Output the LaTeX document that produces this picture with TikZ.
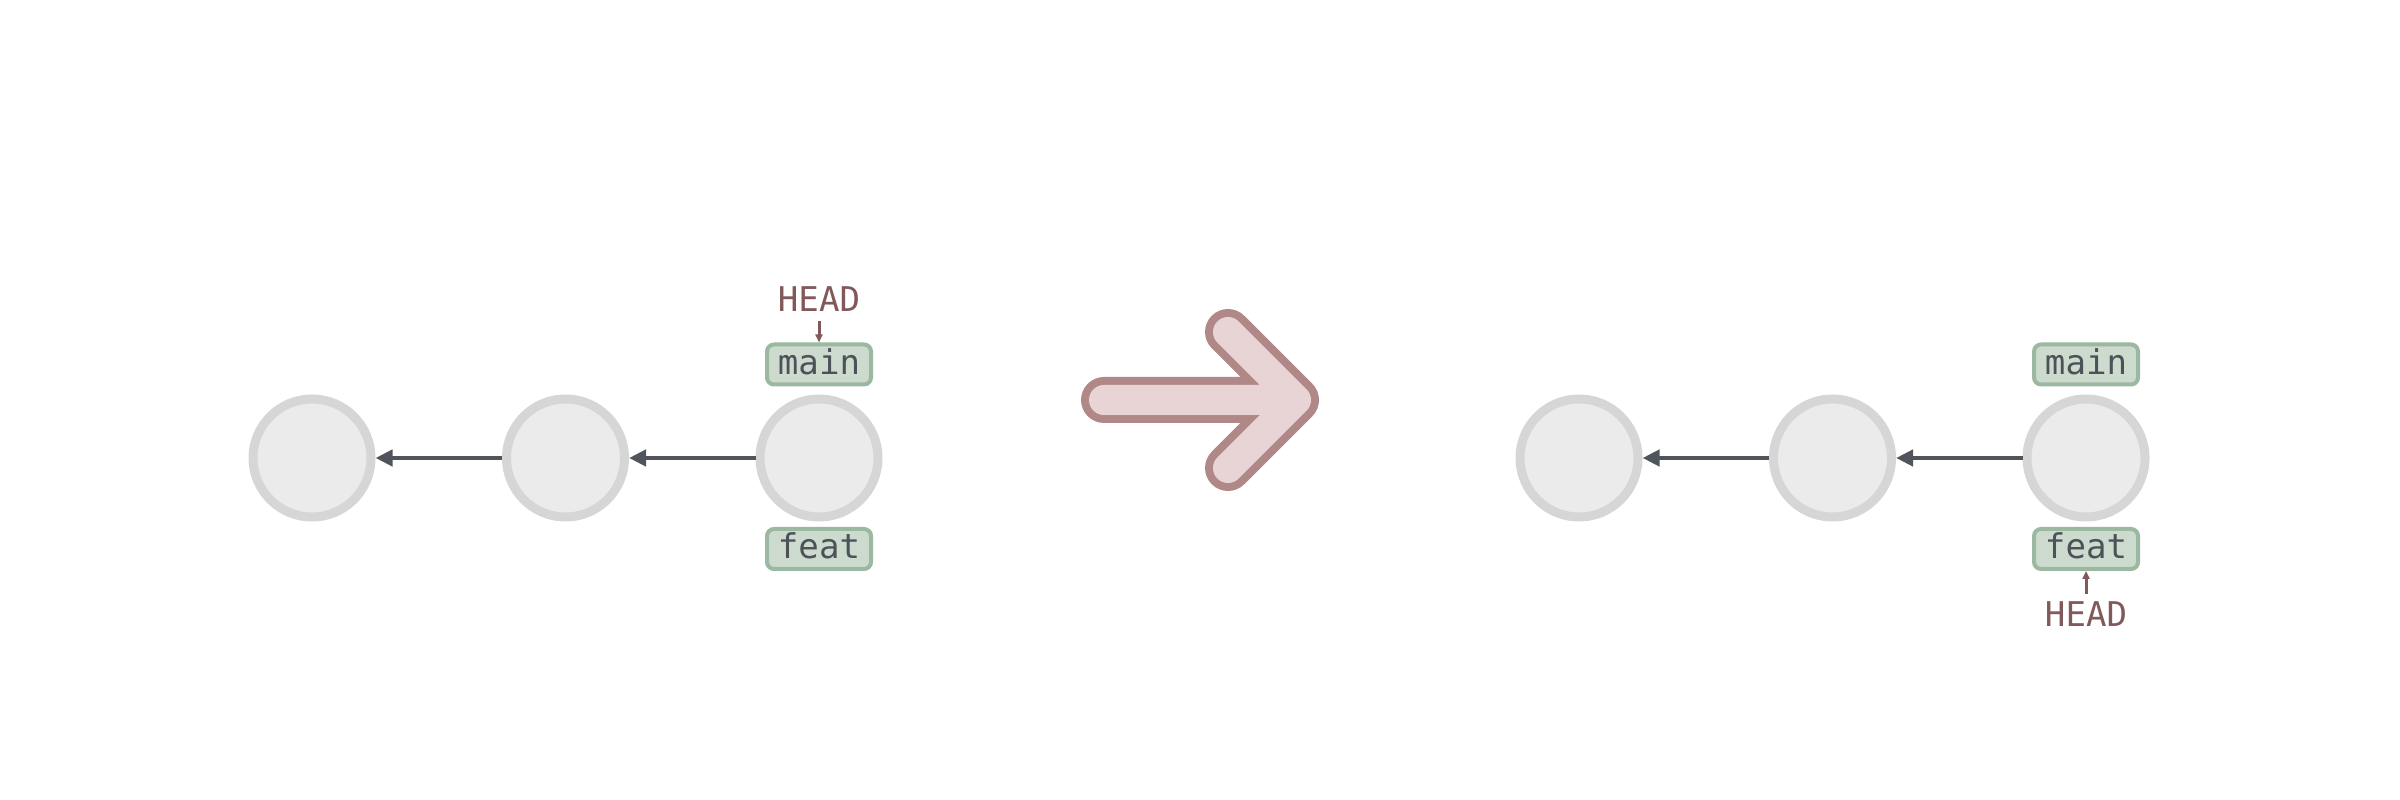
\documentclass[tikz,border=0pt]{standalone}
\usepackage{fontspec}
\setmonofont{DejaVu Sans Mono}
\usetikzlibrary{arrows.meta, positioning}
\definecolor{commitfill}{HTML}{EBEBEB}
\definecolor{commitdraw}{HTML}{D6D6D6}
\definecolor{linkcol}{HTML}{50555C}
\definecolor{reffill}{HTML}{CDDBCF}
\definecolor{refdraw}{HTML}{9BB8A0}
\definecolor{reftext}{HTML}{4D5259}
\definecolor{headcol}{HTML}{82595A}
\definecolor{bigfill}{HTML}{E8D4D4}
\definecolor{bigdraw}{HTML}{B08887}
\tikzstyle{commit} = [circle, minimum size=1.18cm, inner sep=0pt, draw=commitdraw, fill=commitfill, line width=0.09cm]
\tikzstyle{ref} = [rectangle, minimum width=1.04cm, minimum height=0.4cm, inner sep=0pt, text height=0.2cm, text depth=0pt, text centered, draw=refdraw, fill=reffill, line width=0.04cm, rounded corners=0.07cm, text=reftext, font=\ttfamily\fontsize{9.7}{11}\selectfont]
\tikzstyle{headlabel} = [inner sep=0pt, text=headcol, font=\ttfamily\fontsize{9.7}{11}\selectfont]
\tikzstyle{link} = [line width=0.045cm, draw=linkcol, -{Triangle[length=0.17cm, width=0.16cm]}]
\tikzstyle{headarrow} = [line width=0.03cm, draw=headcol, -{Triangle[length=0.08cm, width=0.07cm]}]
\tikzstyle{bigout} = [line width=0.46cm, draw=bigdraw, line cap=round, line join=round]
\tikzstyle{bigin} = [line width=0.30cm, draw=bigfill, line cap=round, line join=round]

\begin{document}
\begin{tikzpicture}[node distance=2.535cm]
\useasboundingbox (0,0) rectangle (24,8);

% Before
\node (c3) [commit] at (8.19,3.42) {};
\node (c2) [commit, left of=c3] {};
\node (c1) [commit, left of=c2] {};
\node (main_l) [ref, above=0.08cm of c3] {main};
\node (feat_l) [ref, below=0.055cm of c3] {feat};
\node (head_l) [headlabel, above=0.30cm of main_l] {HEAD};

% After
\node (c6) [commit] at (20.86,3.42) {};
\node (c5) [commit, left of=c6] {};
\node (c4) [commit, left of=c5] {};
\node (main_r) [ref, above=0.08cm of c6] {main};
\node (feat_r) [ref, below=0.055cm of c6] {feat};
\node (head_r) [headlabel, below=0.30cm of feat_r] {HEAD};

% Big arrow
\coordinate (tail) at (11.04,4.00);
\coordinate (tip) at (12.96,4.00);
\coordinate (arm_t) at (12.28,4.68);
\coordinate (arm_b) at (12.28,3.32);
\draw [bigout] (tail) -- (tip) (arm_t) -- (tip) -- (arm_b);
\draw [bigin] (tail) -- (tip) (arm_t) -- (tip) -- (arm_b);

% Arrows
\draw [link] (c2) -- (c1);
\draw [link] (c3) -- (c2);
\draw [link] (c5) -- (c4);
\draw [link] (c6) -- (c5);
\draw [headarrow, shorten <=0.09cm] (head_l) -- (main_l);
\draw [headarrow, shorten <=0.07cm] (head_r) -- (feat_r);

\end{tikzpicture}
\end{document}
